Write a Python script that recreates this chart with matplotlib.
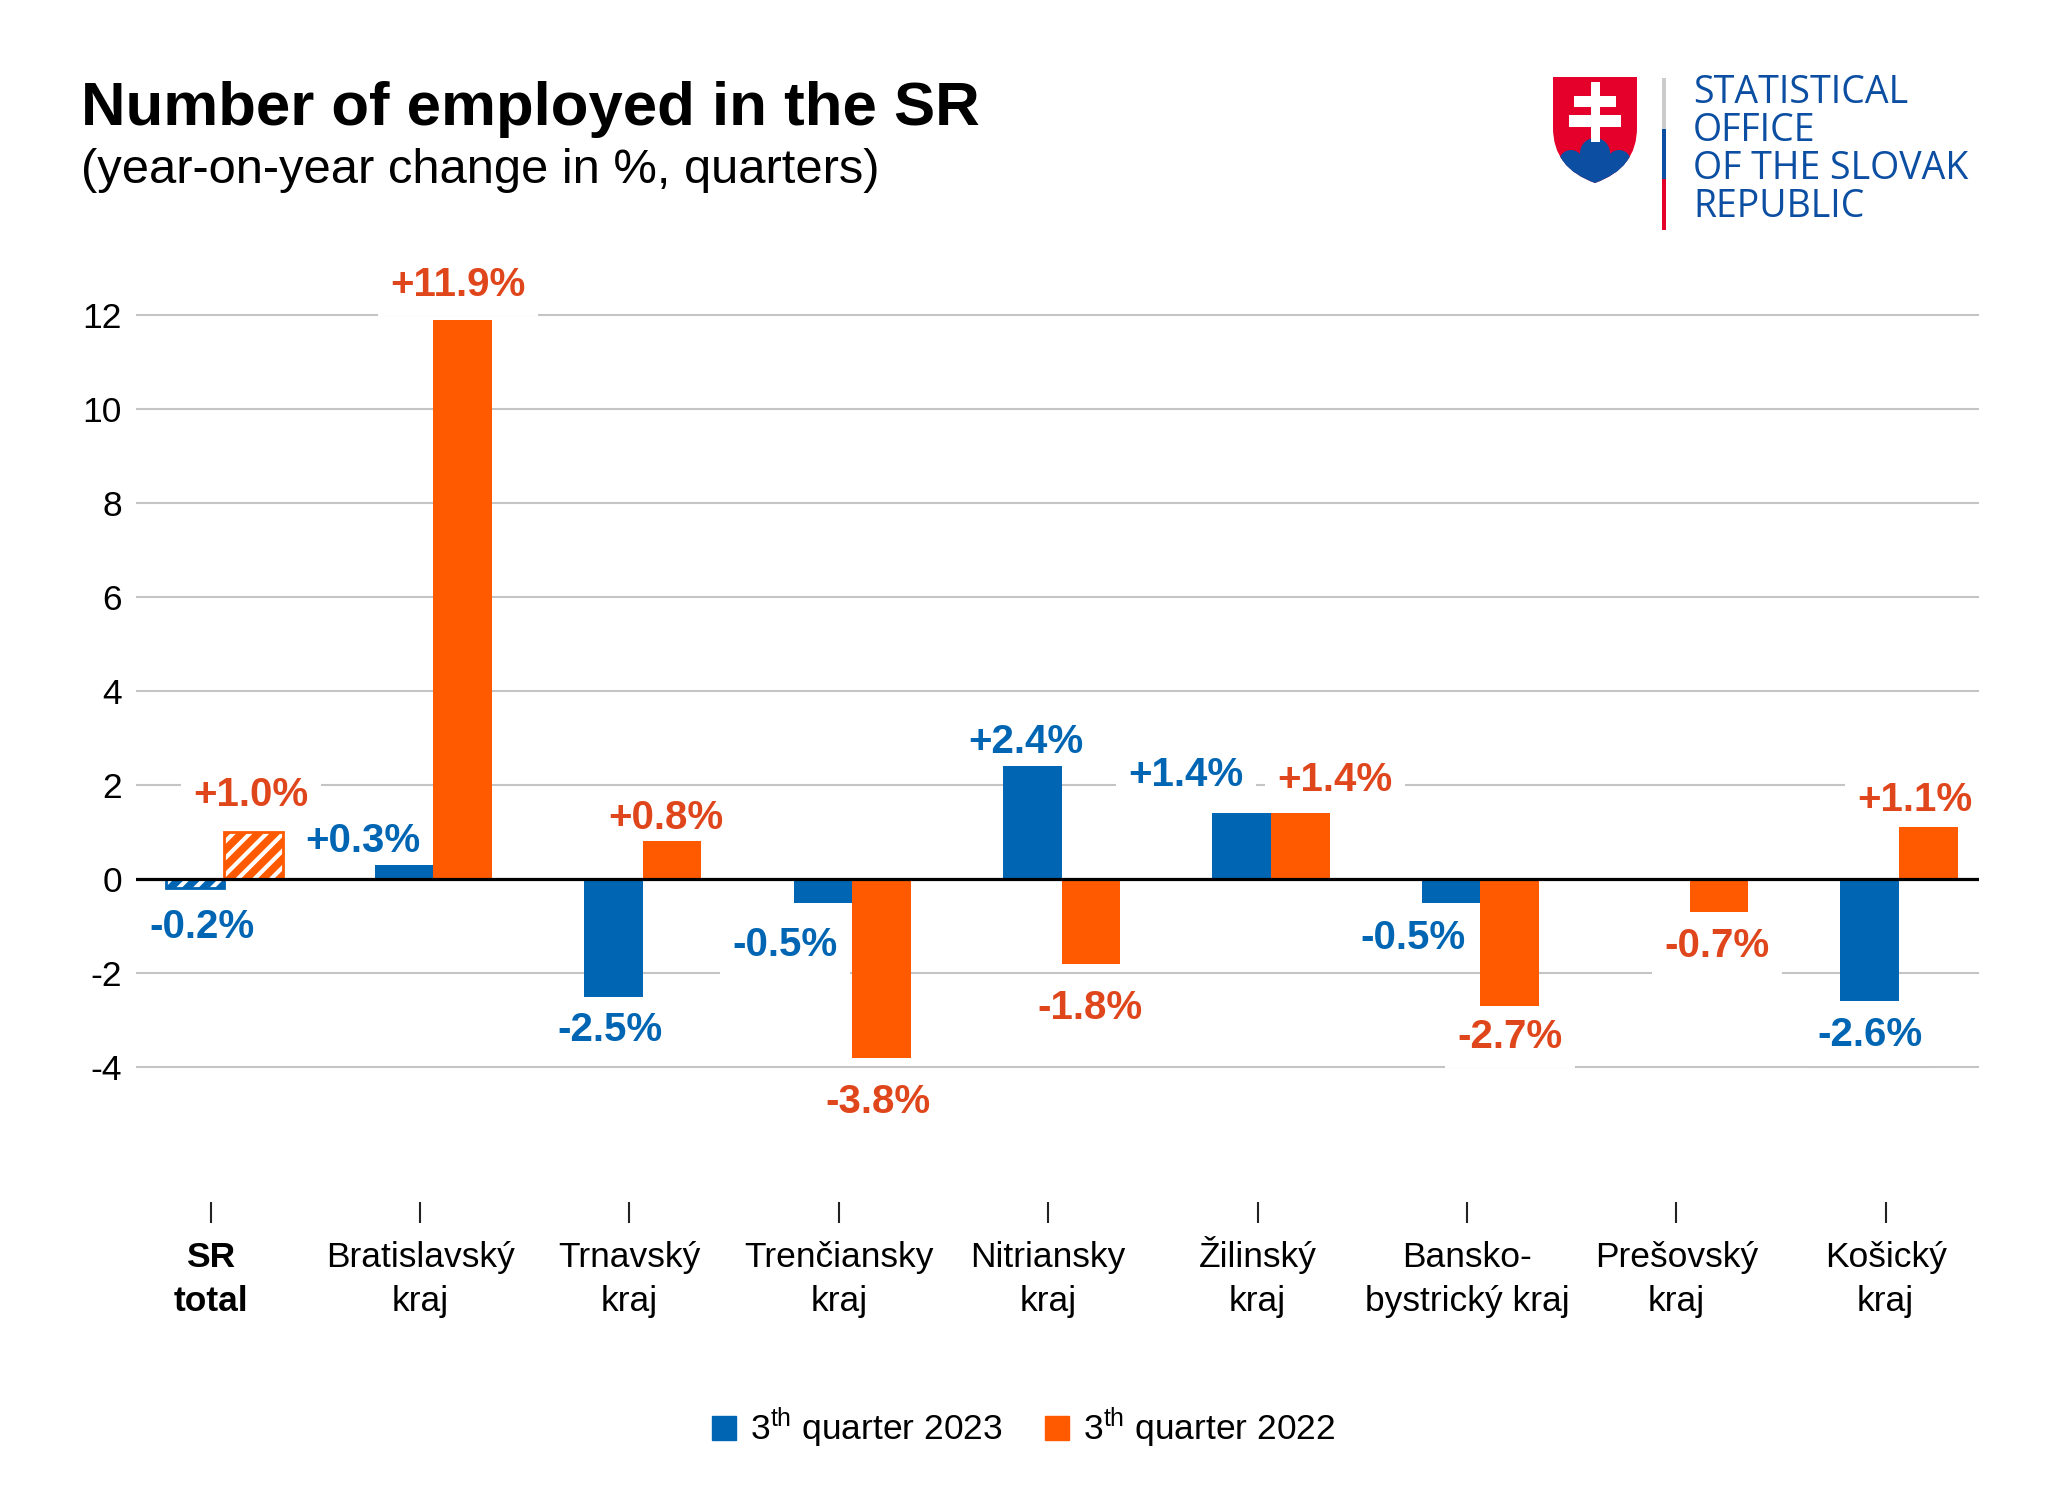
import numpy as np
import matplotlib
matplotlib.use('Agg')
import matplotlib.pyplot as plt
import matplotlib.transforms as mtransforms
from matplotlib.patches import Patch, Rectangle, Circle, PathPatch
from matplotlib.path import Path

plt.rcParams['font.family'] = ['Liberation Sans', 'DejaVu Sans']
plt.rcParams['mathtext.default'] = 'regular'
plt.rcParams['hatch.linewidth'] = 3.0
plt.rcParams['axes.unicode_minus'] = False

# data
regions = ['SR\ntotal', 'Bratislavský\nkraj', 'Trnavský\nkraj', 'Trenčiansky\nkraj',
           'Nitriansky\nkraj', 'Žilinský\nkraj', 'Bansko-\nbystrický kraj',
           'Prešovský\nkraj', 'Košický\nkraj']
q3_2023 = [-0.2, 0.3, -2.5, -0.5, 2.4, 1.4, -0.5, 0.0, -2.6]
q3_2022 = [1.0, 11.9, 0.8, -3.8, -1.8, 1.4, -2.7, -0.7, 1.1]
labels_2023 = ['-0.2%', '+0.3%', '-2.5%', '-0.5%', '+2.4%', '+1.4%', '-0.5%', '', '-2.6%']
labels_2022 = ['+1.0%', '+11.9%', '+0.8%', '-3.8%', '-1.8%', '+1.4%', '-2.7%', '-0.7%', '+1.1%']
series_names = ['3$^{th}$ quarter 2023', '3$^{th}$ quarter 2022']

# label placement (offset from bar end, data units)
dx_2023 = [0.035, -0.196, -0.015, -0.182, -0.031, -0.266, -0.18, 0.0, 0.0]
dy_2023 = [-1.06, 0.27, -0.95, -1.13, 0.29, 0.58, -0.99, 0.0, -0.96]
dx_2022 = [-0.012, -0.022, -0.031, -0.016, -0.005, 0.167, 0.001, -0.01, -0.064]
dy_2022 = [0.55, 0.51, 0.26, -1.18, -1.17, 0.48, -0.89, -0.96, 0.34]

blue = '#0066b3'
orange = '#ff5a00'
blue_txt = '#0066b3'
orange_txt = '#e0461c'

fig = plt.figure(figsize=(20.48, 15.04), dpi=100)
ax = fig.add_axes([0.0664, 0.2008, 0.8999, 0.621])

x = np.arange(len(regions))
w = 0.28
shift = 0.064
b1 = ax.bar(x + shift - w / 2, q3_2023, w, color=blue, zorder=3, linewidth=0)
b2 = ax.bar(x + shift + w / 2, q3_2022, w, color=orange, zorder=3, linewidth=0)

# hatched SR total bars
for bars, col in ((b1, blue), (b2, orange)):
    p = bars[0]
    p.set_hatch('//')
    p.set_edgecolor('white')
    ax.bar(p.get_x() + w / 2, p.get_height(), w, fill=False, edgecolor=col,
           linewidth=2, zorder=3.5)

for i in range(len(regions)):
    for vals, labs, dxs, dys, off, col in (
            (q3_2023, labels_2023, dx_2023, dy_2023, -w / 2, blue_txt),
            (q3_2022, labels_2022, dx_2022, dy_2022, w / 2, orange_txt)):
        if not labs[i]:
            continue
        ax.text(x[i] + shift + off + dxs[i], vals[i] + dys[i], labs[i],
                ha='center', va='baseline', fontsize=29, fontweight='bold',
                color=col, zorder=2.5, clip_on=False,
                bbox=dict(boxstyle='square,pad=0.3', facecolor='white', edgecolor='none'))

ax.axhline(0, color='black', linewidth=2.3, zorder=4)
ax.set_xlim(-0.357, 8.446)
ax.set_ylim(-6.87, 13)
ax.set_yticks(np.arange(-4, 13, 2))
ax.yaxis.grid(True, color='#c4c4c4', linewidth=1.5, zorder=0)
ax.set_axisbelow(True)
for s in ax.spines.values():
    s.set_visible(False)

ax.set_xticks(x)
ax.set_xticklabels([])
ax.tick_params(axis='x', length=15, width=1.5, color='#222222', direction='out')
ax.tick_params(axis='y', length=0, pad=10, labelsize=25.5)

# category labels, aligned on the baseline of their last line
trans = mtransforms.blended_transform_factory(ax.transData, ax.transAxes)
for i, r in enumerate(regions):
    ax.text(x[i], -0.1165, r, transform=trans, ha='center', va='baseline',
            fontsize=25.5, linespacing=1.43, clip_on=False,
            fontweight='bold' if i == 0 else 'normal')

fig.text(0.0396, 0.917, 'Number of employed in the SR', fontsize=44.5,
         fontweight='bold', va='baseline')
fig.text(0.0396, 0.878, '(year-on-year change in %, quarters)', fontsize=35.2,
         va='baseline')

handles = [Patch(color=blue), Patch(color=orange)]
fig.legend(handles, series_names, loc='center', bbox_to_anchor=(0.5, 0.0503), ncol=2,
           frameon=False, fontsize=25.5, handlelength=0.67, handleheight=0.67,
           handletextpad=0.4, columnspacing=1.2)

# logo
lax = fig.add_axes([0, 0, 1, 1], zorder=5)
lax.set_xlim(0, 2048)
lax.set_ylim(1504, 0)
lax.axis('off')
logo_blue = '#0b4ea2'
logo_red = '#e4002b'
verts = [(1553, 77), (1637, 77), (1637, 128), (1637, 168), (1595, 183),
         (1553, 168), (1553, 128), (1553, 77)]
codes = [Path.MOVETO, Path.LINETO, Path.LINETO, Path.CURVE3, Path.CURVE3,
         Path.CURVE3, Path.CURVE3, Path.CLOSEPOLY]
shield = PathPatch(Path(verts, codes), facecolor=logo_red, edgecolor='none')
lax.add_patch(shield)
for m in (Circle((1595, 153), 15), Circle((1571, 162), 12), Circle((1619, 162), 12),
          Rectangle((1550, 160), 90, 30)):
    m.set_facecolor(logo_blue)
    m.set_edgecolor('none')
    lax.add_patch(m)
    m.set_clip_path(shield)
for r in (Rectangle((1590.5, 82), 9, 60), Rectangle((1574, 96), 42, 11),
          Rectangle((1569, 115), 52, 12)):
    r.set_facecolor('white')
    r.set_edgecolor('none')
    lax.add_patch(r)
lax.add_patch(Rectangle((1662, 78), 4, 51, facecolor='#cccccc', edgecolor='none'))
lax.add_patch(Rectangle((1662, 129), 4, 50, facecolor=logo_blue, edgecolor='none'))
lax.add_patch(Rectangle((1662, 179), 4, 51, facecolor=logo_red, edgecolor='none'))
for yb, t in zip((103, 141, 179, 217), ('STATISTICAL', 'OFFICE', 'OF THE SLOVAK', 'REPUBLIC')):
    lax.text(1693, yb, t, fontsize=27, family='Open Sans', color=logo_blue, va='baseline')

fig.savefig('out.png', dpi=100)
